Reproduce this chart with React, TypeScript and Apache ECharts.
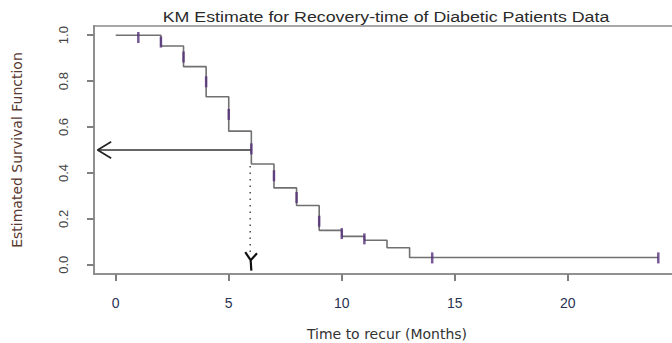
import React, { useEffect, useRef } from "react";
import * as echarts from "echarts";

// Kaplan-Meier step curve (time in months, estimated survival)
const stepTimes = [0, 2, 3, 4, 5, 6, 7, 8, 9, 10, 11, 12, 13, 24];
const survival = [1.0, 0.953, 0.863, 0.732, 0.582, 0.439, 0.335, 0.258, 0.15, 0.124, 0.107, 0.074, 0.032, 0.032];

// censor marks
const censorTimes = [1, 2, 3, 4, 5, 6, 7, 8, 9, 10, 11, 14, 24];
const censorValues = [0.99, 0.97, 0.905, 0.797, 0.655, 0.505, 0.388, 0.293, 0.19, 0.136, 0.113, 0.03, 0.03];

// axis ticks
const xTicks = [0, 5, 10, 15, 20];
const yTicks = [0, 0.2, 0.4, 0.6, 0.8, 1.0];

// axis extents (R-style 4% padding)
const X_MIN = -0.96;
const X_MAX = 24.96;
const Y_MIN = -0.04;
const Y_MAX = 1.04;

// median annotation
const medianLevel = 0.5;
const medianTime = 6;
const arrowTipTime = -0.8;
const dottedTime = 5.95;
const dottedTop = 0.43;
const dottedBottom = 0.035;

const TITLE = "KM Estimate for Recovery-time of Diabetic Patients Data";
const FONT = "'Liberation Sans', Arial, sans-serif";
const WIDE = "'DejaVu Sans', sans-serif";

const G_LEFT = 94;
const G_TOP = 26;
const G_BOTTOM = 274;
const G_RIGHT_PX = 680;
const FRAME_W = 1.6;
const FRAME_COLOR = "#8a8a8a";

export default function App() {
  const ref = useRef<HTMLDivElement>(null);
  useEffect(() => {
    if (!ref.current) return;
    const chart = echarts.init(ref.current, undefined, { renderer: "svg" });
    const km = stepTimes.map((t, i) => [t, survival[i]]);
    const marks = censorTimes.map((t, i) => [t, censorValues[i]]);
    const hArrow = [[medianTime, medianLevel], [arrowTipTime, medianLevel]];
    const hHead = [
      [arrowTipTime + 0.6, medianLevel + 0.036],
      [arrowTipTime, medianLevel],
      [arrowTipTime + 0.6, medianLevel - 0.036],
    ];
    const vDots = [[dottedTime, dottedTop], [dottedTime, dottedBottom]];
    const vHead = [
      [dottedTime - 0.22, dottedBottom + 0.02],
      [dottedTime + 0.02, dottedBottom - 0.015],
      [dottedTime + 0.3, dottedBottom + 0.015],
    ];
    const vStem = [[dottedTime + 0.02, dottedBottom - 0.015], [dottedTime + 0.05, dottedBottom - 0.06]];

    const half = FRAME_W / 2;
    const frameRects = [
      { x: G_LEFT - half, y: G_TOP - half, width: G_RIGHT_PX - G_LEFT + half, height: FRAME_W },
      { x: G_LEFT - half, y: G_BOTTOM - half, width: G_RIGHT_PX - G_LEFT + half, height: FRAME_W },
      { x: G_LEFT - half, y: G_TOP - half, width: FRAME_W, height: G_BOTTOM - G_TOP + FRAME_W },
    ].map((shape) => ({
      type: "rect",
      silent: true,
      z: 100,
      shape,
      style: { fill: FRAME_COLOR },
    }));

    chart.setOption({
      animation: false,
      backgroundColor: "#ffffff",
      textStyle: { fontFamily: FONT },
      graphic: [
        ...frameRects,
        {
          type: "text",
          x: 386,
          y: 17,
          scaleX: 1.27,
          originX: 0,
          originY: 0,
          style: {
            text: TITLE,
            font: `14px ${FONT}`,
            fill: "#2a2a2a",
            align: "center",
            verticalAlign: "middle",
          },
        },
      ],
      grid: {
        left: G_LEFT,
        right: 672 - G_RIGHT_PX,
        top: G_TOP,
        bottom: 343 - G_BOTTOM,
        outerBoundsMode: "none",
        containLabel: false,
      },
      xAxis: {
        type: "value",
        min: X_MIN,
        max: X_MAX,
        name: "Time to recur (Months)",
        nameLocation: "middle",
        nameGap: 53,
        nameTextStyle: { fontSize: 14, color: "#333", fontFamily: WIDE },
        axisLine: { show: true, onZero: false, lineStyle: { color: FRAME_COLOR, width: FRAME_W } },
        splitLine: { show: false },
        axisTick: {
          show: true,
          customValues: xTicks,
          length: 7,
          inside: false,
          lineStyle: { color: "#555", width: 1.5 },
        },
        axisLabel: {
          customValues: xTicks,
          margin: 22,
          fontSize: 14,
          color: "#2b3352",
          fontFamily: FONT,
        },
      },
      yAxis: {
        type: "value",
        min: Y_MIN,
        max: Y_MAX,
        name: "Estimated Survival Function",
        nameLocation: "middle",
        nameRotate: 90,
        nameGap: 70,
        nameTextStyle: { fontSize: 14, color: "#5a3a30", fontFamily: WIDE },
        axisLine: { show: true, onZero: false, lineStyle: { color: FRAME_COLOR, width: FRAME_W } },
        splitLine: { show: false },
        axisTick: {
          show: true,
          customValues: yTicks,
          length: 7,
          lineStyle: { color: "#555", width: 1.5 },
        },
        axisLabel: {
          customValues: yTicks,
          rotate: 90,
          margin: 24,
          fontSize: 13,
          color: "#444",
          fontFamily: FONT,
          formatter: (v: number) => v.toFixed(1),
        },
      },
      series: [
        {
          type: "line",
          step: "end",
          data: km,
          symbol: "none",
          lineStyle: { color: "#707070", width: 1.6 },
          z: 2,
        },
        {
          type: "line",
          data: hArrow,
          symbol: "none",
          lineStyle: { color: "#333", width: 1.6 },
          z: 3,
        },
        {
          type: "line",
          data: hHead,
          symbol: "none",
          lineStyle: { color: "#222", width: 1.6 },
          z: 3,
        },
        {
          type: "line",
          data: vDots,
          symbol: "none",
          lineStyle: { color: "#555", width: 1.6, type: [1.5, 5] },
          z: 3,
        },
        {
          type: "line",
          data: vHead,
          symbol: "none",
          lineStyle: { color: "#111", width: 2.2 },
          z: 3,
        },
        {
          type: "line",
          data: vStem,
          symbol: "none",
          lineStyle: { color: "#111", width: 2.2 },
          z: 3,
        },
        {
          type: "scatter",
          data: marks,
          symbol: "rect",
          symbolSize: [2.5, 11],
          itemStyle: { color: "#55307a" },
          z: 4,
        },
      ],
    });
    return () => chart.dispose();
  }, []);
  return (
    <div
      ref={ref}
      style={{ position: "fixed", left: 0, top: 0, width: 672, height: 343 }}
    />
  );
}
